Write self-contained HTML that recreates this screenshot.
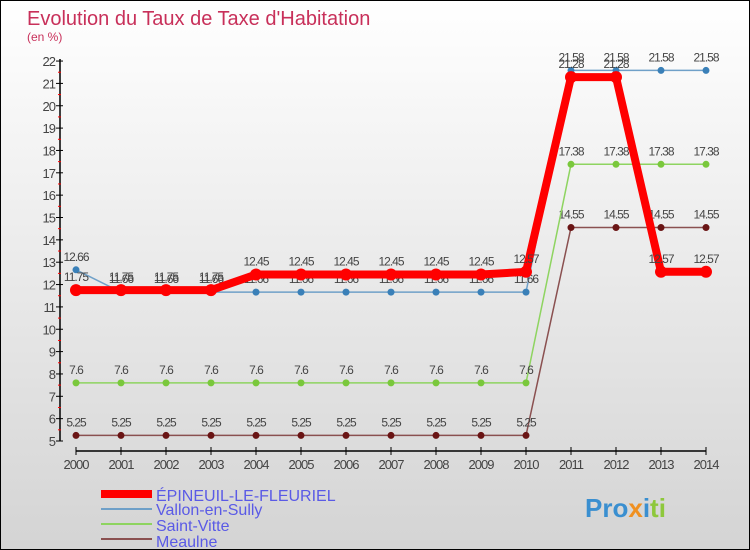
<!DOCTYPE html>
<html><head><meta charset="utf-8"><style>
body{margin:0}
#c{width:748px;height:548px;border:1px solid #000;position:relative;background:linear-gradient(#fff,#d4d4d4);overflow:hidden;font-family:"Liberation Sans",sans-serif}
</style></head><body>
<div id="c">
<svg id="s" width="748" height="548" xmlns="http://www.w3.org/2000/svg">
<text x="26" y="24" font-size="20" fill="#c8305a">Evolution du Taux de Taxe d'Habitation</text>
<text x="26" y="40" font-size="12" fill="#c8305a">(en %)</text>
<g id="axes"></g><g id="series"></g>
<g>
<line x1="100" y1="493" x2="151" y2="493" stroke="#f00" stroke-width="8"/>
<text x="155" y="500" font-size="16" fill="#5a5ae6">ÉPINEUIL-LE-FLEURIEL</text>
<line x1="100" y1="508" x2="151" y2="508" stroke="#6fa0c8" stroke-width="2"/>
<text x="155" y="514" font-size="16" fill="#5a5ae6">Vallon-en-Sully</text>
<line x1="100" y1="523" x2="151" y2="523" stroke="#8ed460" stroke-width="2"/>
<text x="155" y="530" font-size="16" fill="#5a5ae6">Saint-Vitte</text>
<line x1="100" y1="538" x2="151" y2="538" stroke="#8a5050" stroke-width="2"/>
<text x="155" y="546" font-size="16" fill="#5a5ae6">Meaulne</text>
</g>
<text x="584" y="516" font-size="26" font-weight="bold" fill="#3a8fd0">Pro<tspan fill="#f09020">x</tspan><tspan fill="#3a8fd0">i</tspan><tspan fill="#8ec83c">ti</tspan></text>
</svg></div>
<script>
const years=[2000,2001,2002,2003,2004,2005,2006,2007,2008,2009,2010,2011,2012,2013,2014];
const yTicks=[5,6,7,8,9,10,11,12,13,14,15,16,17,18,19,20,21,22];
const epineuil=[11.75,11.75,11.75,11.75,12.45,12.45,12.45,12.45,12.45,12.45,12.57,21.28,21.28,12.57,12.57];
const vallon=[12.66,11.66,11.66,11.66,11.66,11.66,11.66,11.66,11.66,11.66,11.66,21.58,21.58,21.58,21.58];
const saintVitte=[7.6,7.6,7.6,7.6,7.6,7.6,7.6,7.6,7.6,7.6,7.6,17.38,17.38,17.38,17.38];
const meaulne=[5.25,5.25,5.25,5.25,5.25,5.25,5.25,5.25,5.25,5.25,5.25,14.55,14.55,14.55,14.55];
const NS="http://www.w3.org/2000/svg";
const X=i=>75+i*45, Y=v=>440-(v-5)*22.35;
function mk(t,a,p){const e=document.createElementNS(NS,t);for(const k in a)e.setAttribute(k,a[k]);p.appendChild(e);return e;}
const ax=document.getElementById('axes'), sg=document.getElementById('series');
let l=mk('line',{x1:59,y1:Y(22)-2,x2:59,y2:Y(5),stroke:'#000','stroke-width':1.5},ax);


yTicks.forEach(v=>{mk('line',{x1:55,y1:Y(v),x2:62,y2:Y(v),stroke:'#000'},ax);
 if(v<22)mk('line',{x1:57,y1:Y(v+0.5),x2:60,y2:Y(v+0.5),stroke:'#f00'},ax);
 const t=mk('text',{x:54,y:Y(v)+5,'font-size':13,'text-anchor':'end',fill:'#444','letter-spacing':'-1'},ax);t.textContent=v;
 
 });
l=mk('line',{x1:X(0),y1:450,x2:X(14),y2:450,stroke:'#000','stroke-width':1.5},ax);


years.forEach((y,i)=>{mk('line',{x1:X(i),y1:446,x2:X(i),y2:454,stroke:'#000'},ax);
 const t=mk('text',{x:X(i),y:468,'font-size':13,'text-anchor':'middle',fill:'#444','letter-spacing':'-1'},ax);t.textContent=y;
 
 });
function series(d,name,col,w,dot,r){
 const g=mk('g',{},sg);
 
 
 mk('polyline',{points:d.map((v,i)=>X(i)+','+Y(v)).join(' '),fill:'none',stroke:col,'stroke-width':w},g);
 d.forEach((v,i)=>{const c=mk('circle',{cx:X(i),cy:Y(v),r:r,fill:dot},g);
  
  
  const t=mk('text',{x:X(i),y:Y(v)-9,'font-size':12,'text-anchor':'middle',fill:'#444','letter-spacing':'-1'},g);t.textContent=v;
  
  });
}
series(meaulne,'meaulne','#8a5050',1.5,'#6a1515',3.5);
series(saintVitte,'saint-vitte','#8ed460',1.5,'#7ac83c',3.5);
series(vallon,'vallon','#6fa0c8',1.5,'#3a80b8',3.5);
series(epineuil,'epineuil','#f00',8,'#f00',6);
</script>
</body></html>
